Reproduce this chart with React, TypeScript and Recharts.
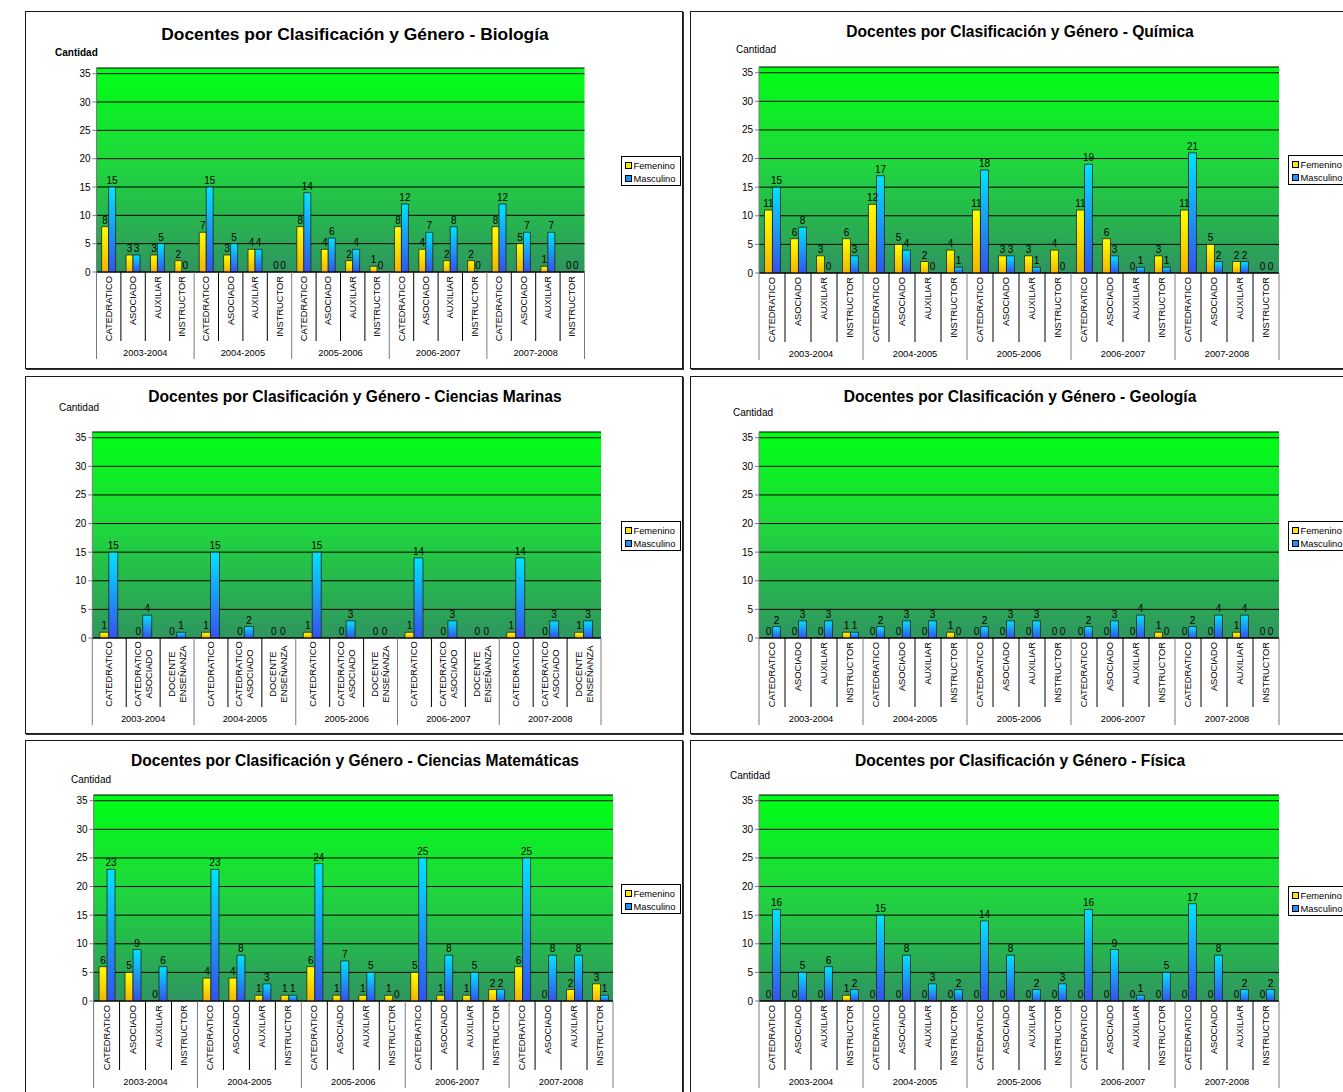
import React from 'react';
import { BarChart, Bar, XAxis, YAxis, CartesianGrid, LabelList } from 'recharts';

const FONT = '"Liberation Sans", Arial, Helvetica, sans-serif';

const YEARS = ['2003-2004', '2004-2005', '2005-2006', '2006-2007', '2007-2008'];
const CLASSES = ['CATEDRATICO', 'ASOCIADO', 'AUXILIAR', 'INSTRUCTOR'];
const CLASSES_MARINAS = ['CATEDRATICO', 'CATEDRATICO\nASOCIADO', 'DOCENTE\nENSEÑANZA'];
const Y_TICKS = [0, 5, 10, 15, 20, 25, 30, 35];
const SERIES = ['Femenino', 'Masculino'];

const BIO_FEM = [8, 3, 3, 2, 7, 3, 4, 0, 8, 4, 2, 1, 8, 4, 2, 2, 8, 5, 1, 0];
const BIO_MASC = [15, 3, 5, 0, 15, 5, 4, 0, 14, 6, 4, 0, 12, 7, 8, 0, 12, 7, 7, 0];
const QUI_FEM = [11, 6, 3, 6, 12, 5, 2, 4, 11, 3, 3, 4, 11, 6, 0, 3, 11, 5, 2, 0];
const QUI_MASC = [15, 8, 0, 3, 17, 4, 0, 1, 18, 3, 1, 0, 19, 3, 1, 1, 21, 2, 2, 0];
const MAR_FEM = [1, 0, 0, 1, 0, 0, 1, 0, 0, 1, 0, 0, 1, 0, 1];
const MAR_MASC = [15, 4, 1, 15, 2, 0, 15, 3, 0, 14, 3, 0, 14, 3, 3];
const GEO_FEM = [0, 0, 0, 1, 0, 0, 0, 1, 0, 0, 0, 0, 0, 0, 0, 1, 0, 0, 1, 0];
const GEO_MASC = [2, 3, 3, 1, 2, 3, 3, 0, 2, 3, 3, 0, 2, 3, 4, 0, 2, 4, 4, 0];
const MAT_FEM = [6, 5, 0, null, 4, 4, 1, 1, 6, 1, 1, 1, 5, 1, 1, 2, 6, 0, 2, 3];
const MAT_MASC = [23, 9, 6, null, 23, 8, 3, 1, 24, 7, 5, 0, 25, 8, 5, 2, 25, 8, 8, 1];
const FIS_FEM = [0, 0, 0, 1, 0, 0, 0, 0, 0, 0, 0, 0, 0, 0, 0, 0, 0, 0, 0, 0];
const FIS_MASC = [16, 5, 6, 2, 15, 8, 3, 2, 14, 8, 2, 3, 16, 9, 1, 5, 17, 8, 2, 2];

const PANEL_W = 658;
const PANEL_H = 358;
const Y_AXIS_W = 40;
const X_AXIS_H = 92;

type Row = { key: string; year: string; cls: string; Femenino: number | null; Masculino: number | null };

function buildRows(classes: string[], fem: (number | null)[], masc: (number | null)[]): Row[] {
  const rows: Row[] = [];
  YEARS.forEach((yr, yi) => {
    classes.forEach((c, ci) => {
      const k = yi * classes.length + ci;
      rows.push({ key: `${yr}|${ci}`, year: yr, cls: c, Femenino: fem[k], Masculino: masc[k] });
    });
  });
  return rows;
}

type Cfg = {
  id: string;
  title: string;
  titleSize: number;
  titleY: number;
  cantBold: boolean;
  cantX: number;
  cantY: number;
  classes: string[];
  fem: (number | null)[];
  masc: (number | null)[];
  left: number;
  top: number;
  plotL: number;
  plotR: number;
  plotT: number;
  plotB: number;
  legendX: number;
  legendY: number;
  gap: string;
  centered: boolean;
};

const PANELS: Cfg[] = [
  { id: 'bio', title: 'Docentes por Clasificación y Género - Biología', titleSize: 17.4, titleY: 23, cantBold: true, cantX: 30, cantY: 42, classes: CLASSES, fem: BIO_FEM, masc: BIO_MASC, left: 25, top: 11, plotL: 71.5, plotR: 559.5, plotT: 57, plotB: 261, legendX: 596, legendY: 145, gap: '21%', centered: false },
  { id: 'qui', title: 'Docentes por Clasificación y Género - Química', titleSize: 15.6, titleY: 21, cantBold: false, cantX: 46, cantY: 39, classes: CLASSES, fem: QUI_FEM, masc: QUI_MASC, left: 690, top: 11, plotL: 69, plotR: 589, plotT: 56, plotB: 262, legendX: 598, legendY: 144, gap: '21%', centered: false },
  { id: 'mar', title: 'Docentes por Clasificación y Género - Ciencias Marinas', titleSize: 15.6, titleY: 21, cantBold: false, cantX: 34, cantY: 32, classes: CLASSES_MARINAS, fem: MAR_FEM, masc: MAR_MASC, left: 25, top: 376, plotL: 67.3, plotR: 576, plotT: 56, plotB: 262, legendX: 596, legendY: 145, gap: '22%', centered: true },
  { id: 'geo', title: 'Docentes por Clasificación y Género - Geología', titleSize: 15.6, titleY: 21, cantBold: false, cantX: 43, cantY: 37, classes: CLASSES, fem: GEO_FEM, masc: GEO_MASC, left: 690, top: 376, plotL: 69, plotR: 589, plotT: 56, plotB: 262, legendX: 598, legendY: 145, gap: '21%', centered: false },
  { id: 'mat', title: 'Docentes por Clasificación y Género - Ciencias Matemáticas', titleSize: 15.6, titleY: 21, cantBold: false, cantX: 46, cantY: 40, classes: CLASSES, fem: MAT_FEM, masc: MAT_MASC, left: 25, top: 740, plotL: 68.6, plotR: 588, plotT: 55, plotB: 261, legendX: 596, legendY: 144, gap: '21%', centered: false },
  { id: 'fis', title: 'Docentes por Clasificación y Género - Física', titleSize: 15.6, titleY: 21, cantBold: false, cantX: 40, cantY: 36, classes: CLASSES, fem: FIS_FEM, masc: FIS_MASC, left: 690, top: 740, plotL: 69, plotR: 589, plotT: 55, plotB: 261, legendX: 598, legendY: 146, gap: '21%', centered: false },
];

function CategoryTick(props: any) {
  const { x, index, cfg, rows } = props;
  const row: Row | undefined = rows[index];
  if (!row) return null;
  const n = cfg.classes.length;
  const bw = (cfg.plotR - cfg.plotL) / rows.length;
  const ay = cfg.plotB;
  const pos = index % n;
  const lines = row.cls.split('\n');
  const els: any[] = [];
  const textProps = { fontSize: 9.3, fill: '#000', fontFamily: FONT };
  if (!cfg.centered) {
    els.push(
      <text key="l" transform={`translate(${x},${ay + 4}) rotate(-90)`} textAnchor="end" dominantBaseline="central" {...textProps}>
        {lines[0]}
      </text>
    );
  } else {
    lines.forEach((ln, li) => {
      const off = (li - (lines.length - 1) / 2) * 11;
      els.push(
        <text key={'l' + li} transform={`translate(${x + off},${ay + 36}) rotate(-90)`} textAnchor="middle" dominantBaseline="central" {...textProps}>
          {ln}
        </text>
      );
    });
  }
  const rx = x + bw / 2;
  const isEnd = pos === n - 1;
  els.push(<line key="r" x1={rx} x2={rx} y1={ay} y2={ay + (isEnd ? 87 : 69)} stroke={isEnd ? '#7a7a7a' : '#000'} strokeWidth={1} />);
  if (pos === 0) {
    const lx = x - bw / 2;
    if (index === 0) {
      els.push(<line key="lft" x1={lx} x2={lx} y1={ay} y2={ay + 87} stroke="#7a7a7a" strokeWidth={1} />);
    }
    els.push(
      <text key="y" x={x + (bw * (n - 1)) / 2} y={ay + 81} textAnchor="middle" dominantBaseline="central" {...textProps}>
        {row.year}
      </text>
    );
  }
  return <g>{els}</g>;
}

function ValueLabel(props: any) {
  const { x, y, width, value } = props;
  if (value === null || value === undefined) return null;
  return (
    <text x={Number(x) + Number(width) / 2} y={Number(y) - 3} textAnchor="middle" fontSize={10} fill="#000" fontFamily={FONT}>
      {value}
    </text>
  );
}

function Legend2() {
  return (
    <div style={{ position: 'absolute', boxSizing: 'border-box', width: 60, height: 30, border: '1px solid #000', background: '#fff', fontFamily: FONT, fontSize: 9.3, color: '#000', paddingLeft: 3, paddingTop: 2 }}>
      {SERIES.map((s, i) => (
        <div key={s} style={{ display: 'flex', alignItems: 'center', height: 13, whiteSpace: 'nowrap' }}>
          <span style={{ display: 'inline-block', width: 5, height: 5, border: '1px solid #000', background: i === 0 ? '#FFE600' : '#1E90FF', marginRight: 1.5 }} />
          {s}
        </div>
      ))}
    </div>
  );
}

function Panel({ cfg }: { cfg: Cfg }) {
  const rows = buildRows(cfg.classes, cfg.fem, cfg.masc);
  return (
    <div style={{ position: 'absolute', left: cfg.left, top: cfg.top, width: PANEL_W, height: PANEL_H, background: '#fff' }}>
      <div style={{ position: 'absolute', left: 0, top: 0, width: PANEL_W, height: PANEL_H, boxSizing: 'border-box', border: '1px solid #1a1a1a', boxShadow: '1px 1px 0 #333' }} />
      <div style={{ position: 'absolute', left: 0, top: cfg.titleY - 11, width: 660, height: 22, lineHeight: '22px', textAlign: 'center', fontFamily: FONT, fontWeight: 'bold', fontSize: cfg.titleSize, color: '#000', whiteSpace: 'nowrap' }}>
        {cfg.title}
      </div>
      <div style={{ position: 'absolute', left: cfg.cantX, top: cfg.cantY - 6, lineHeight: '12px', fontFamily: FONT, fontSize: 10, fontWeight: cfg.cantBold ? 'bold' : 'normal', color: '#000' }}>
        Cantidad
      </div>
      <div style={{ position: 'absolute', left: 0, top: 0 }}>
        <BarChart
          width={PANEL_W}
          height={PANEL_H}
          data={rows}
          margin={{ top: cfg.plotT, right: PANEL_W - cfg.plotR, left: cfg.plotL - Y_AXIS_W, bottom: PANEL_H - cfg.plotB - X_AXIS_H }}
          barCategoryGap={cfg.gap}
          barGap={0}
        >
          <defs>
            <linearGradient id={`bg-${cfg.id}`} x1="0" y1="0" x2="0" y2="1">
              <stop offset="0%" stopColor="#00FF14" />
              <stop offset="45%" stopColor="#1FD83C" />
              <stop offset="100%" stopColor="#2F9560" />
            </linearGradient>
            <linearGradient id={`fem-${cfg.id}`} x1="0" y1="0" x2="0" y2="1">
              <stop offset="0%" stopColor="#FFFF00" />
              <stop offset="100%" stopColor="#F2B400" />
            </linearGradient>
            <linearGradient id={`masc-${cfg.id}`} x1="0" y1="0" x2="0" y2="1">
              <stop offset="0%" stopColor="#00E4FF" />
              <stop offset="100%" stopColor="#3452EE" />
            </linearGradient>
          </defs>
          <CartesianGrid horizontal vertical={false} stroke="#000" strokeWidth={1} fill={`url(#bg-${cfg.id})`} fillOpacity={1} />
          <XAxis
            dataKey="key"
            interval={0}
            height={X_AXIS_H}
            tickSize={0}
            tickMargin={0}
            tickLine={false}
            axisLine={{ stroke: '#000', strokeWidth: 1.2 }}
            tick={(p: any) => <CategoryTick {...p} cfg={cfg} rows={rows} />}
          />
          <YAxis
            domain={[0, 36]}
            ticks={Y_TICKS}
            width={Y_AXIS_W}
            tickSize={4}
            tickMargin={2}
            allowDataOverflow
            axisLine={{ stroke: '#7a7a7a' }}
            tickLine={{ stroke: '#7a7a7a' }}
            tick={{ fontSize: 10, fill: '#000', fontFamily: FONT }}
          />
          <Bar dataKey="Femenino" minPointSize={0.01} fill={`url(#fem-${cfg.id})`} stroke="#222" strokeWidth={0.8} isAnimationActive={false}>
            <LabelList dataKey="Femenino" content={ValueLabel} />
          </Bar>
          <Bar dataKey="Masculino" minPointSize={0.01} fill={`url(#masc-${cfg.id})`} stroke="#222" strokeWidth={0.8} isAnimationActive={false}>
            <LabelList dataKey="Masculino" content={ValueLabel} />
          </Bar>
        </BarChart>
      </div>
      <div style={{ position: 'absolute', left: cfg.legendX, top: cfg.legendY }}>
        <Legend2 />
      </div>
    </div>
  );
}

export default function App() {
  return (
    <div style={{ position: 'fixed', left: 0, top: 0, width: 1343, height: 1092, overflow: 'hidden', background: '#fff' }}>
      {PANELS.map((p) => (
        <Panel key={p.id} cfg={p} />
      ))}
    </div>
  );
}
